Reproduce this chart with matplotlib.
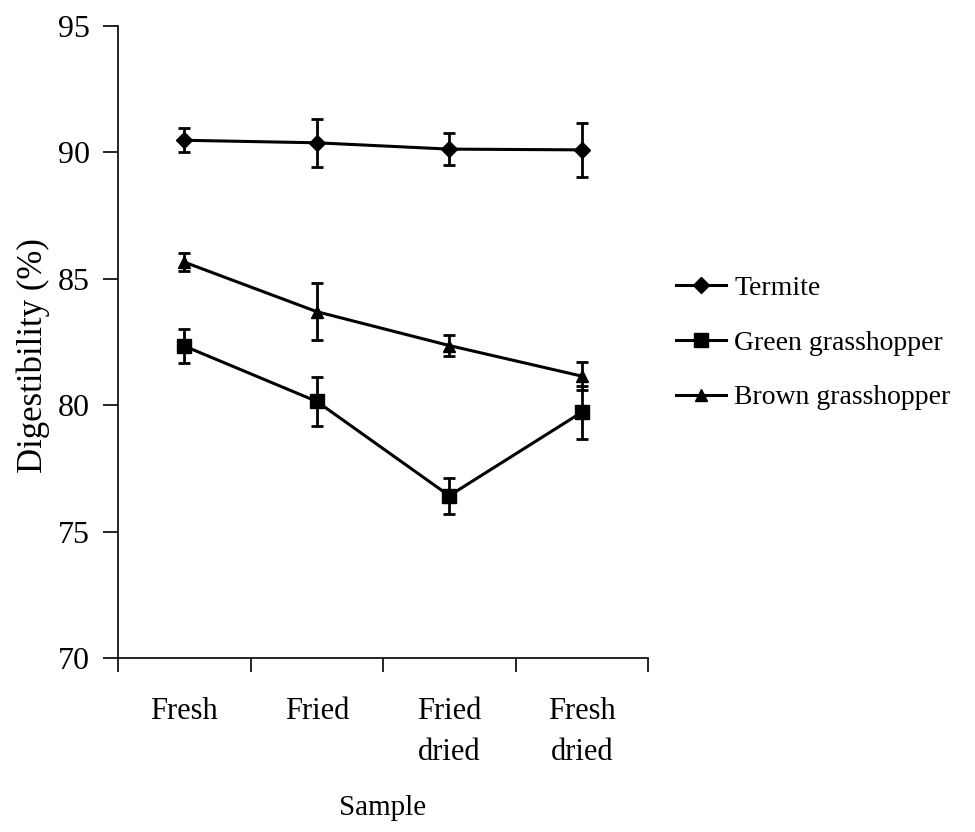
import numpy as np
import matplotlib
matplotlib.use("Agg")
import matplotlib.pyplot as plt

plt.rcParams["font.family"] = ["Liberation Serif", "DejaVu Serif"]

samples = ["Fresh", "Fried", "Fried\ndried", "Fresh\ndried"]

termite = [90.48, 90.38, 90.13, 90.10]
termite_err = [0.48, 0.94, 0.63, 1.06]

green = [82.34, 80.15, 76.42, 79.72]
green_err = [0.66, 0.97, 0.72, 1.05]

brown = [85.66, 83.70, 82.36, 81.15]
brown_err = [0.37, 1.12, 0.42, 0.55]

series = [
    ("Termite", termite, termite_err, "D", 8),
    ("Green grasshopper", green, green_err, "s", 10),
    ("Brown grasshopper", brown, brown_err, "^", 9),
]

fig = plt.figure(figsize=(9.75, 8.32), dpi=100)
ax = fig.add_axes([118 / 975, 1 - 658 / 832, 530 / 975, 632 / 832])

x = np.arange(1, len(samples) + 1)
for name, vals, err, mk, ms in series:
    ax.errorbar(x, vals, yerr=err, color="black", lw=2.2, marker=mk, ms=ms,
                elinewidth=2, capsize=4, capthick=2, label=name)

ax.set_xlim(0.5, len(samples) + 0.5)
ax.set_ylim(70, 95)
ax.set_yticks([70, 75, 80, 85, 90, 95])
ax.set_xticks(np.arange(0.5, len(samples) + 1, 1.0))
ax.set_xticklabels([])
ax.set_xticks(x, minor=True)
ax.set_xticklabels(samples, minor=True, fontsize=22, linespacing=1.55)
ax.tick_params(axis="x", which="minor", length=0, pad=28)
ax.tick_params(axis="x", which="major", length=10, width=1.2, direction="out")
ax.tick_params(axis="y", length=11, width=1.2, direction="out", labelsize=23, pad=9)

for side in ["top", "right"]:
    ax.spines[side].set_visible(False)
for side in ["left", "bottom"]:
    ax.spines[side].set_linewidth(1.2)

ax.set_ylabel("Digestibility (%)", fontsize=25)
ax.yaxis.set_label_coords(-0.129, 0.479)
ax.set_xlabel("Sample", fontsize=21)
ax.xaxis.set_label_coords(0.5, -0.217)

handles, labels = ax.get_legend_handles_labels()
handles = [h[0] for h in handles]
ax.legend(handles, labels, loc="center left", bbox_to_anchor=(665 / 975, 1 - 343 / 832),
          bbox_transform=fig.transFigure, frameon=False, fontsize=20,
          handlelength=1.8, handletextpad=0.3, labelspacing=1.05, borderaxespad=0)

fig.savefig("out.png", dpi=100)
